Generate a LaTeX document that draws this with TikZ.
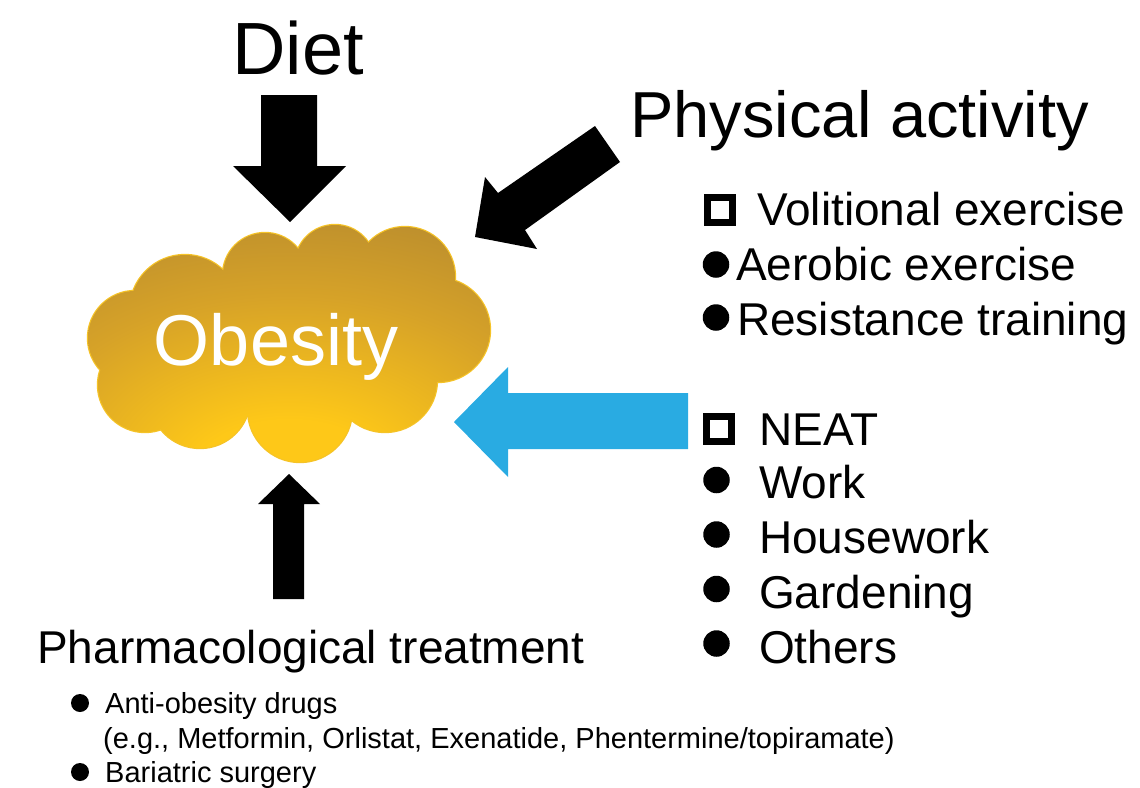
\documentclass[tikz,border=0pt]{standalone}
\usepackage{fontspec}
\setmainfont{Liberation Sans}

\definecolor{cloudcore}{RGB}{254,200,24}
\definecolor{cloudmid}{RGB}{214,162,40}
\definecolor{cloudedge}{RGB}{166,126,50}
\definecolor{cloudline}{RGB}{245,195,40}
\definecolor{neatblue}{RGB}{41,171,226}

\pgfdeclareradialshading{obesityshade}{\pgfpoint{0bp}{-32bp}}{%
  color(0bp)=(cloudcore);color(12bp)=(cloudcore);color(32bp)=(cloudmid);%
  color(58bp)=(cloudedge);color(100bp)=(cloudedge)}

% puffs of the cloud: x/y/radius
\newcommand\obesitypuffs{135/338/47, 145/385/47, 200/398/50, 300/410/52,
  385/380/52, 438/330/52, 405/277/50, 335/265/40, 265/275/42, 185/310/55}

\tikzset{
  heading/.style={anchor=base, inner sep=0pt, font=\fontsize{65}{70}\selectfont},
  itemtext/.style={anchor=base west, inner sep=0pt, font=\fontsize{46}{50}\selectfont},
  smalltext/.style={anchor=base west, inner sep=0pt, font=\fontsize{29}{33}\selectfont},
  boxmark/.style={draw, line width=7pt, minimum size=25pt, inner sep=0pt},
  dotmark/.style={circle, fill, minimum size=26.5pt, inner sep=0pt},
  smalldot/.style={circle, fill, minimum size=18pt, inner sep=0pt}
}

\begin{document}
\begin{tikzpicture}[x=1pt,y=-1pt]
  \useasboundingbox (0,0) rectangle (1140,787);

  % the cloud
  \foreach \cx/\cy/\r in \obesitypuffs
    \draw[cloudline, line width=2.4pt] (\cx,\cy) circle (\r);
  \path[shading=obesityshade] (290,345) ellipse (140 and 75)
    \foreach \cx/\cy/\r in \obesitypuffs { (\cx,\cy) circle (\r) };
  \node[anchor=base, inner sep=0pt, text=white, font=\fontsize{72}{76}\selectfont]
    (obesity) at (276,365) {Obesity};

  % headings
  \node[heading, font=\fontsize{74}{80}\selectfont] (diet) at (298,74) {Diet};
  \node[heading, anchor=base west] (physical) at (630,137) {Physical activity};
  \node[heading, anchor=base west, font=\fontsize{46}{50}\selectfont]
    (pharma) at (37,663) {Pharmacological treatment};

  % block arrows
  \fill (261,95) -- (317,95) -- (317,166) -- (346,166) -- (290,222)
        -- (233,166) -- (261,166) -- cycle;
  \fill (595,126) -- (620,162) -- (525,230) -- (537,249) -- (475,237)
        -- (485,177) -- (498,193) -- cycle;
  \fill[neatblue] (688,393) -- (688,449) -- (508,449) -- (508,477)
        -- (454,422) -- (508,367) -- (508,393) -- cycle;
  \fill (273,599) -- (304,599) -- (304,504) -- (320,504) -- (289,474)
        -- (258,504) -- (273,504) -- cycle;

  % volitional exercise
  \node[boxmark] (volbox) at (719.5,209.5) {};
  \node[itemtext] (vol) at (757,225) {Volitional exercise};
  \node[dotmark] (aerodot) at (716,264.5) {};
  \node[itemtext] (aero) at (736,280) {Aerobic exercise};
  \node[dotmark] (resdot) at (716,317.5) {};
  \node[itemtext] (res) at (737,335) {Resistance training};

  % NEAT
  \node[boxmark] (neatbox) at (719,429) {};
  \node[itemtext] (neat) at (759,445) {NEAT};
  \foreach \word [count=\i from 0] in {Work,Housework,Gardening,Others} {
    \node[dotmark] (neatdot\i) at (716.5,480+54.5*\i) {};
    \node[itemtext] (neatitem\i) at (759,498+55*\i) {\word};
  }

  % treatments
  \node[smalldot] (drugdot) at (80,703) {};
  \node[smalltext] (drugs) at (105,713) {Anti-obesity drugs};
  \node[smalltext] (drugeg) at (103,748) {(e.g., Metformin, Orlistat, Exenatide, Phentermine/topiramate)};
  \node[smalldot] (surgdot) at (80,772) {};
  \node[smalltext] (surgery) at (105,782) {Bariatric surgery};
\end{tikzpicture}
\end{document}
